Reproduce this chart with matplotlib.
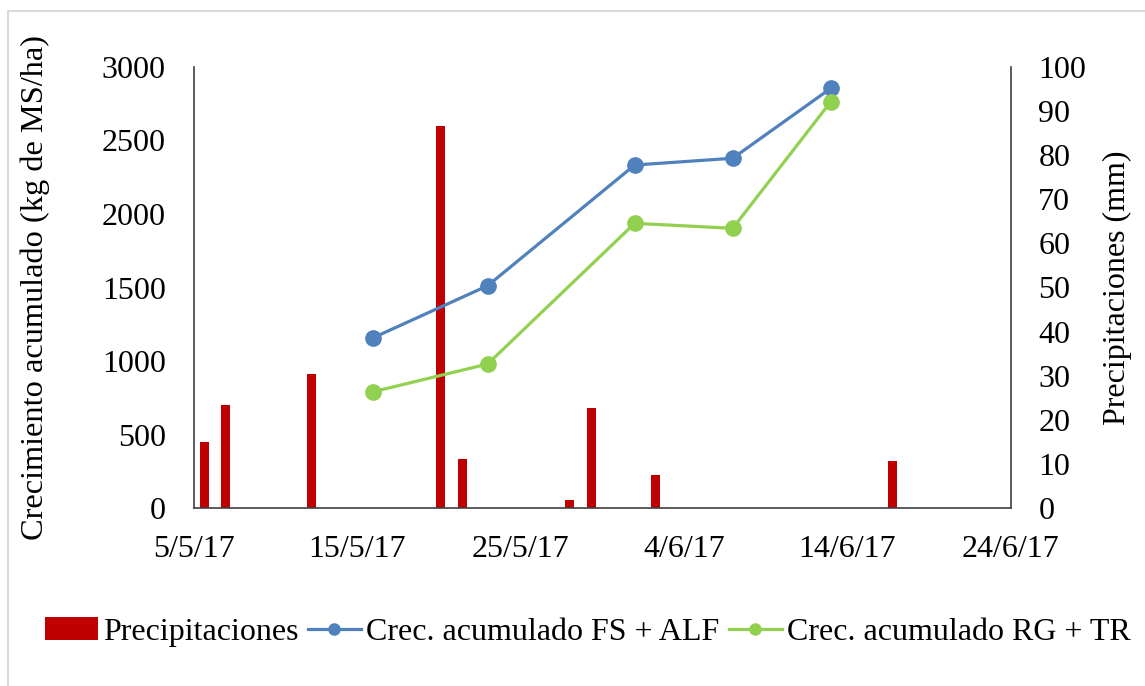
import matplotlib
matplotlib.use("Agg")
import matplotlib.pyplot as plt
from matplotlib.patches import Rectangle
from datetime import datetime

# precipitation record (daily, starting 5/5/17)
precip_start = "5/5/17"
precip_n_days = 38
precip_dates = ["5/5/17", "6/5/17", "10/5/17", "16/5/17", "17/5/17",
                "22/5/17", "23/5/17", "26/5/17", "6/6/17"]
precip_mm = [15, 23.5, 30.5, 86.6, 11.1, 1.9, 22.6, 7.6, 10.8]

# cumulative growth (kg MS/ha)
cut_dates = ["16/5/17", "23/5/17", "1/6/17", "7/6/17", "13/6/17"]
fs_alf = [1159, 1512, 2332, 2378, 2853]
rg_tr = [792, 980, 1936, 1902, 2762]

x_ticks = ["5/5/17", "15/5/17", "25/5/17", "4/6/17", "14/6/17", "24/6/17"]

def d(s):
    return datetime.strptime(s, "%d/%m/%y")

plt.rcParams['font.family'] = ['Liberation Serif', 'DejaVu Serif']
FS = 23

fig = plt.figure(figsize=(11.45, 6.86), dpi=100)
W, H = 1145, 686
ax = fig.add_axes([193.5 / W, 1 - 508.3 / H, 817 / W, 441.6 / H])

red = "#C00000"
blue = "#4F81BD"
green = "#92D050"

# lines on the primary axis (dates)
l1, = ax.plot([d(s) for s in cut_dates], fs_alf, color=blue, lw=2.3,
              marker="o", ms=11, zorder=5, label="Crec. acumulado FS + ALF")
l2, = ax.plot([d(s) for s in cut_dates], rg_tr, color=green, lw=2.3,
              marker="o", ms=11, zorder=5, label="Crec. acumulado RG + TR")
ax.set_xlim(d(x_ticks[0]), d(x_ticks[-1]))
ax.set_ylim(0, 3000)
ax.set_yticks(range(0, 3001, 500))
ax.set_xticks([d(s) for s in x_ticks])
ax.set_xticklabels(x_ticks)
ax.set_ylabel("Crecimiento acumulado (kg de MS/ha)", fontsize=23.3, labelpad=37)

# bars on their own category axis and the secondary y axis
axb = ax.twinx()
axc = axb.twiny()
idx = [(d(s) - d(precip_start)).days for s in precip_dates]
bars = axc.bar(idx, precip_mm, width=0.42, color=red, label="Precipitaciones")
axc.set_xlim(-0.5, precip_n_days - 0.5)
axb.set_ylim(0, 100)
axc.set_ylim(0, 100)
axb.set_yticks(range(0, 101, 10))
axb.set_ylabel("Precipitaciones (mm)", fontsize=FS, labelpad=12)
axc.set_xticks([])

# lines drawn above bars
ax.set_zorder(axc.get_zorder() + 1)
ax.patch.set_visible(False)

for a in (ax, axb, axc):
    for sp in a.spines.values():
        sp.set_visible(False)
ax.spines["left"].set_visible(True)
ax.spines["bottom"].set_visible(True)
axb.spines["right"].set_visible(True)
for sp in (ax.spines["left"], ax.spines["bottom"], axb.spines["right"]):
    sp.set_color("#404040")
    sp.set_linewidth(1.2)

ax.tick_params(axis="y", length=0, pad=20, labelsize=FS)
ax.tick_params(axis="x", length=0, pad=19.5, labelsize=FS)
axb.tick_params(axis="y", length=0, pad=20, labelsize=FS)

fig.legend(handles=[bars, l1, l2], loc="center left",
           bbox_to_anchor=(44.8 / W, 1 - 632 / H), frameon=False,
           fontsize=FS, handlelength=1.65, handletextpad=0.16,
           columnspacing=0.31, ncol=3, markerscale=0.73,
           borderpad=0, borderaxespad=0)

# light chart-area border
fig.patches.append(Rectangle((8 / W, -0.1), 1.2, 1 - 11 / H + 0.1,
                             transform=fig.transFigure, fill=False,
                             edgecolor="#D9D9D9", lw=1.5))

fig.savefig("out.png", dpi=100)
